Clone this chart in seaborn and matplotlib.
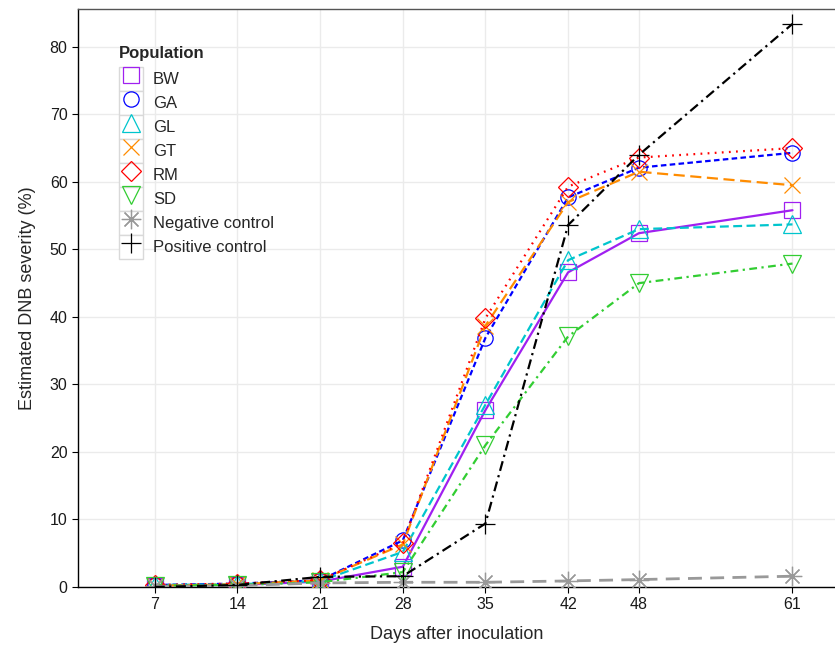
import pandas as pd
import numpy as np
import seaborn as sns
import matplotlib.pyplot as plt
from matplotlib.lines import Line2D
from matplotlib.patches import Rectangle
from matplotlib.legend_handler import HandlerLine2D

sns.set_theme(style="white")
plt.rcParams['font.family'] = ['Liberation Sans', 'DejaVu Sans']

# data
days = [7, 14, 21, 28, 35, 42, 48, 61]
populations = ['BW', 'GA', 'GL', 'GT', 'RM', 'SD', 'Negative control', 'Positive control']
bw = [0.2, 0.3, 0.8, 3.0, 26.2, 46.6, 52.4, 55.8]
ga = [0.3, 0.5, 1.0, 6.9, 36.9, 57.7, 62.1, 64.3]
gl = [0.3, 0.4, 0.9, 5.2, 27.0, 48.4, 53.0, 53.7]
gt = [0.2, 0.4, 1.0, 6.3, 38.7, 57.0, 61.5, 59.5]
rm = [0.3, 0.5, 1.0, 6.5, 39.8, 59.3, 63.6, 65.0]
sd = [0.2, 0.3, 0.7, 2.2, 21.0, 37.1, 45.0, 47.9]
neg = [0.1, 0.2, 0.6, 0.7, 0.7, 0.9, 1.1, 1.6]
pos = [0.0, 0.3, 1.5, 1.6, 9.4, 53.6, 64.0, 83.4]
values = [bw, ga, gl, gt, rm, sd, neg, pos]

df = pd.DataFrame({
    'day': days * len(populations),
    'severity': np.concatenate(values),
    'Population': np.repeat(populations, len(days)),
})

colors = {'BW': '#A020F0', 'GA': '#0000FF', 'GL': '#00C5CD', 'GT': '#FF8C00',
          'RM': '#FF0000', 'SD': '#32CD32', 'Negative control': '#999999',
          'Positive control': '#000000'}
markers = {'BW': 's', 'GA': 'o', 'GL': '^', 'GT': 'x', 'RM': 'D', 'SD': 'v',
           'Negative control': (8, 2, 0), 'Positive control': '+'}
msizes = {'BW': 11, 'GA': 11, 'GL': 13, 'GT': 11, 'RM': 10, 'SD': 13,
          'Negative control': 14, 'Positive control': 14}
dashes = {'BW': '-', 'GA': (0, (2.5, 1.5)), 'GL': (0, (4, 2)), 'GT': (0, (5, 2.5)),
          'RM': (0, (0.8, 2.4)), 'SD': (0, (3.5, 2, 1, 2)),
          'Negative control': (0, (5, 3)), 'Positive control': (0, (4.5, 2, 1, 2))}

fig = plt.figure(figsize=(8.35, 6.45), dpi=100)
ax = fig.add_axes([78 / 835, 1 - 587 / 645, 1 - 78 / 835, (587 - 9) / 645])

for p in populations:
    sub = df[df['Population'] == p]
    sns.lineplot(data=sub, x='day', y='severity', ax=ax, color=colors[p],
                 linestyle=dashes[p], lw=2.0 if p == 'Negative control' else 1.6,
                 marker=markers[p], ms=msizes[p], mfc='none', mec=colors[p],
                 mew=0.9, legend=False, zorder=3)

ax.set_xlim(0.5, 64.6)
ax.set_ylim(0, 85.6)
ax.set_xticks(days)
ax.set_yticks(range(0, 81, 10))
ax.grid(True, color='#ebebeb', lw=1.0)
ax.set_axisbelow(True)
ax.tick_params(axis='both', labelsize=11.5, length=4, width=0.8, color='black',
               left=True, bottom=True, labelcolor='#1a1a1a')
for s in ['left', 'bottom']:
    ax.spines[s].set_color('black')
    ax.spines[s].set_linewidth(1.0)
ax.spines['right'].set_visible(False)
ax.spines['top'].set_color('#555555')
ax.spines['top'].set_linewidth(1.0)
ax.set_xlabel('Days after inoculation', fontsize=13, labelpad=10)
ax.set_ylabel('Estimated DNB severity (%)', fontsize=13, labelpad=10)


class BoxedKey(HandlerLine2D):
    def create_artists(self, legend, orig, xd, yd, w, h, fs, trans):
        arts = super().create_artists(legend, orig, xd, yd, w, h, fs, trans)
        box = Rectangle((-xd, -yd), w, h, fc='white', ec='#d9d9d9', lw=1.0,
                        transform=trans)
        return [box] + arts


handles = [Line2D([], [], ls='none', marker=markers[p], color=colors[p],
                  mfc='none', mec=colors[p], mew=0.9, ms=msizes[p])
           for p in populations]
leg = ax.legend(handles, populations, title='Population', loc='upper left',
                bbox_to_anchor=(119 / 835, 1 - 46 / 645),
                bbox_transform=fig.transFigure, frameon=False, fontsize=12,
                title_fontproperties={'weight': 'bold', 'size': 12},
                handlelength=1.44, handleheight=1.84, labelspacing=0.0,
                handletextpad=0.6, borderpad=0, borderaxespad=0,
                numpoints=1, alignment='left',
                handler_map={Line2D: BoxedKey()})
leg._legend_box.sep = 4

fig.savefig('out.png', dpi=100)
